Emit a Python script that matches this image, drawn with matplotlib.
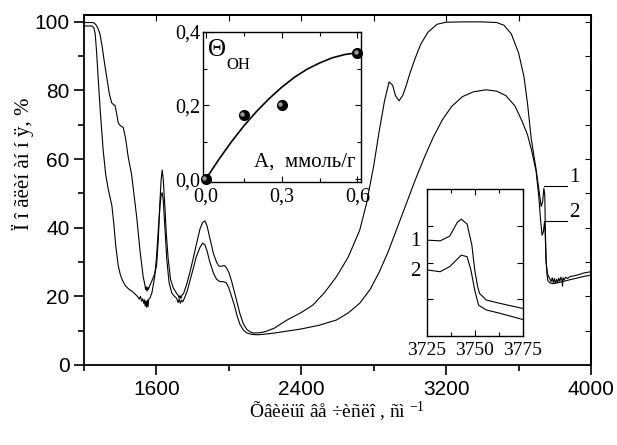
import matplotlib
matplotlib.use('Agg')
import matplotlib.pyplot as plt
from matplotlib.ticker import MultipleLocator, FixedLocator, NullFormatter

plt.rcParams['font.family'] = ['Liberation Sans', 'DejaVu Sans']
plt.rcParams['mathtext.fontset'] = 'custom'
plt.rcParams['mathtext.rm'] = 'Liberation Serif'
plt.rcParams['mathtext.it'] = 'Liberation Serif:italic'

# ---------------- main spectra ----------------
wn1 = [1200, 1250, 1260, 1268, 1278, 1288, 1300, 1312, 1325, 1340, 1353, 1365, 1371, 1380, 1389,
       1400, 1417, 1430, 1444, 1463, 1478, 1491, 1509, 1527, 1536, 1540, 1544, 1548, 1552, 1556,
       1562, 1575, 1590, 1601, 1610, 1619, 1626, 1632, 1638, 1647, 1655, 1665, 1678, 1693, 1710,
       1720, 1726, 1730, 1735, 1740, 1750, 1767, 1785, 1803, 1820, 1840, 1855, 1868, 1880, 1895,
       1915, 1932, 1945, 1960, 1975, 1987, 2000, 2015, 2030, 2042, 2061, 2080, 2100, 2120, 2140,
       2170, 2200, 2250, 2318, 2400, 2465, 2530, 2594, 2660, 2723, 2760, 2800, 2830, 2860, 2885,
       2905, 2920, 2940, 2960, 2980, 3000, 3030, 3060, 3100, 3150, 3200, 3300, 3400, 3480, 3520,
       3560, 3600, 3630, 3650, 3670, 3697, 3715, 3725, 3733, 3740, 3745, 3748, 3752, 3760, 3771,
       3780, 3786, 3792, 3798, 3804, 3810, 3816, 3822, 3828, 3834, 3840, 3843, 3846, 3852, 3860,
       3870, 3885, 3900, 3930, 3960, 4000]
t1 = [99.8, 99.8, 99.5, 99.0, 98.0, 96.5, 93.0, 88.5, 84.0, 79.0, 76.4, 75.8, 75.7, 73.5, 70.6,
      69.8, 69.2, 66.0, 60.7, 55.5, 49.0, 43.2, 33.5, 25.7, 23.5, 22.0, 22.8, 21.5, 22.6, 22.0,
      23.0, 24.5, 26.5, 29.0, 36.0, 47.0, 54.0, 56.8, 54.0, 46.0, 38.0, 31.0, 25.0, 22.5, 21.0,
      20.3, 19.5, 20.2, 19.4, 20.3, 20.8, 23.5, 27.0, 31.0, 35.0, 39.5, 41.5, 42.0, 40.5, 37.0,
      32.5, 30.0, 28.8, 28.8, 29.0, 28.3, 27.0, 24.5, 21.5, 19.0, 15.0, 12.0, 10.3, 9.6, 9.3,
      9.4, 9.7, 10.7, 13.0, 15.3, 17.5, 21.2, 25.7, 31.5, 39.3, 47.0, 58.0, 68.0, 77.0, 82.5,
      81.5, 78.5, 77.0, 78.5, 81.5, 85.0, 89.5, 93.5, 97.0, 99.3, 99.9, 100.0, 100.0, 99.8, 99.0,
      96.5, 91.0, 84.0, 76.0, 66.0, 57.0, 50.0, 46.2, 47.5, 51.5, 49.5, 40.0, 30.0, 26.5, 25.3,
      24.3, 25.4, 24.0, 25.2, 23.8, 25.0, 24.0, 25.3, 24.4, 25.6, 24.6, 23.0, 25.4, 24.8, 25.6,
      25.2, 25.8, 25.9, 26.3, 26.8, 27.2]

wn2 = [1200, 1245, 1255, 1262, 1270, 1278, 1290, 1306, 1320, 1335, 1354, 1365, 1375, 1389, 1400,
       1411, 1430, 1450, 1463, 1480, 1495, 1505, 1512, 1518, 1524, 1530, 1534, 1538, 1542, 1546,
       1550, 1554, 1558, 1565, 1575, 1590, 1600, 1610, 1620, 1626, 1632, 1638, 1647, 1657, 1670,
       1685, 1700, 1712, 1720, 1726, 1732, 1739, 1745, 1755, 1770, 1785, 1803, 1820, 1840, 1855,
       1868, 1880, 1895, 1915, 1932, 1950, 1969, 1985, 2000, 2015, 2030, 2045, 2060, 2080, 2100,
       2130, 2160, 2200, 2250, 2300, 2400, 2500, 2594, 2660, 2723, 2780, 2830, 2880, 2930, 2980,
       3030, 3080, 3130, 3180, 3230, 3290, 3350, 3420, 3480, 3530, 3580, 3620, 3650, 3670, 3697,
       3712, 3722, 3730, 3737, 3743, 3747, 3752, 3757, 3762, 3775, 3789, 3820, 3850, 3880, 3920,
       3960, 4000]
t2 = [98.8, 98.8, 98.2, 96.5, 91.0, 84.0, 74.0, 62.6, 55.5, 51.0, 46.5, 41.0, 35.0, 29.0, 26.5,
      24.8, 23.0, 22.0, 21.6, 20.8, 20.0, 19.2, 20.0, 18.6, 19.3, 18.0, 19.0, 17.2, 18.6, 16.8,
      18.9, 17.0, 19.2, 19.6, 21.0, 25.5, 31.0, 39.0, 46.5, 49.5, 50.2, 48.0, 40.0, 31.0, 24.0,
      21.0, 20.0, 19.4, 18.2, 19.2, 18.0, 18.9, 18.4, 19.5, 21.5, 24.5, 28.0, 31.5, 34.2, 35.5,
      35.0, 33.2, 30.0, 26.8, 25.0, 24.3, 24.3, 24.0, 22.5, 20.0, 17.5, 14.5, 12.0, 10.2, 9.3,
      8.9, 8.8, 9.0, 9.3, 9.7, 10.5, 11.6, 13.1, 15.2, 18.0, 22.0, 27.0, 33.0, 40.0, 47.0,
      54.0, 60.5, 66.5, 71.5, 75.3, 78.2, 79.6, 80.2, 79.8, 78.5, 75.5, 71.0, 67.0, 63.0, 56.5,
      49.0, 42.0, 37.8, 38.8, 41.5, 38.5, 31.0, 26.5, 24.5, 23.9, 23.7, 24.0, 24.4, 24.8, 25.3,
      25.8, 26.2]

x_major = [1600, 2400, 3200, 4000]
y_major = [0, 20, 40, 60, 80, 100]

# ---------------- inset: Theta_OH vs A ----------------
a_pts = [0.0, 0.15, 0.30, 0.60]
theta_pts = [0.0, 0.173, 0.20, 0.342]
a_fit = [0.0, 0.05, 0.10, 0.15, 0.20, 0.25, 0.30, 0.35, 0.40, 0.45, 0.50, 0.55, 0.60]
theta_fit = [0.0, 0.052, 0.100, 0.144, 0.183, 0.218, 0.249, 0.276, 0.298, 0.315, 0.329, 0.338, 0.343]
ins1_xticks = [0.0, 0.3, 0.6]
ins1_xlabels = ['0,0', '0,3', '0,6']
ins1_yticks = [0.0, 0.2, 0.4]
ins1_ylabels = ['0,0', '0,2', '0,4']

# ---------------- inset: 3725-3775 zoom ----------------
z_wn1 = [3725, 3732, 3737, 3741, 3743, 3746, 3748.5, 3750, 3751.5, 3752.5, 3756, 3763, 3775]
z_t1 = [2.61, 2.59, 2.72, 3.10, 3.18, 3.05, 2.48, 1.80, 1.35, 1.16, 0.98, 0.89, 0.75]
z_wn2 = [3725, 3732, 3737, 3743, 3746, 3748, 3750, 3752, 3756, 3763, 3775]
z_t2 = [1.80, 1.75, 1.89, 2.20, 2.16, 1.80, 1.25, 0.84, 0.71, 0.62, 0.45]
ins2_xticks = [3725, 3750, 3775]

serif = 'Liberation Serif'

fig = plt.figure(figsize=(6.17, 4.45), dpi=100)
ax = fig.add_axes([0.1361, 0.1798, 0.8217, 0.7865])
ax.plot(wn1, t1, color='black', lw=0.8)
ax.plot(wn2, t2, color='black', lw=0.8)
ax.set_xlim(1200, 4000)
ax.set_ylim(0, 102)
ax.xaxis.set_major_locator(FixedLocator(x_major))
ax.xaxis.set_minor_locator(MultipleLocator(400))
ax.yaxis.set_major_locator(FixedLocator(y_major))
ax.yaxis.set_minor_locator(MultipleLocator(10))
ax.tick_params(which='major', direction='out', length=7, width=1.2, labelsize=15)
ax.tick_params(which='minor', direction='out', length=4, width=1.2)
for s in ax.spines.values():
    s.set_linewidth(1.3)

sec_r = ax.secondary_yaxis('right')
sec_r.yaxis.set_major_locator(MultipleLocator(10))
sec_r.yaxis.set_major_formatter(NullFormatter())
sec_r.tick_params(direction='in', length=4, width=0.8)
sec_r.spines['right'].set_linewidth(1.3)
sec_t = ax.secondary_xaxis('top')
sec_t.xaxis.set_major_locator(MultipleLocator(400))
sec_t.xaxis.set_major_formatter(NullFormatter())
sec_t.tick_params(direction='in', length=4, width=0.8)
sec_t.spines['top'].set_linewidth(1.3)

ax.set_xlabel('Õâèëüî âå ÷èñëî , ñì $^{-1}$', fontfamily=serif, fontsize=14, labelpad=1)
fig.text(23 / 617, 1 - 164 / 445, 'Ï î ãëèí àí í ÿ, %', fontfamily=serif, fontsize=15,
         rotation=90, ha='center', va='center')

# leader lines for curve labels
ax.plot([3743, 3870], [52.1, 52.1], color='black', lw=0.8)
ax.plot([3743, 3870], [42.0, 42.0], color='black', lw=0.8)
ax.text(3880, 54.5, '1', fontfamily=serif, fontsize=15, ha='left', va='center')
ax.text(3880, 44.3, '2', fontfamily=serif, fontsize=15, ha='left', va='center')

# ---------- inset 1 ----------
ax1 = fig.add_axes([0.3295, 0.5917, 0.2551, 0.3371])
ax1.plot(a_fit, theta_fit, color='black', lw=1.2)
ax1.plot(a_pts, theta_pts, 'o', color='black', ms=7, clip_on=False, zorder=5)
ax1.plot([p - 0.006 for p in a_pts], [q + 0.004 for q in theta_pts], 'o', color='#9a9a9a',
         ms=2.2, clip_on=False, zorder=6)
ax1.set_xlim(-0.01, 0.613)
ax1.set_ylim(-0.007, 0.4)
ax1.set_xticks(ins1_xticks)
ax1.set_xticklabels(ins1_xlabels)
ax1.set_yticks(ins1_yticks)
ax1.set_yticklabels(ins1_ylabels)
ax1.xaxis.set_minor_locator(FixedLocator([0.15, 0.45]))
ax1.yaxis.set_minor_locator(FixedLocator([0.1, 0.3]))
ax1.tick_params(which='both', direction='in', top=True, right=True, labelsize=14.5, width=0.8)
ax1.tick_params(axis='x', pad=4)
ax1.tick_params(axis='y', pad=2)
ax1.tick_params(which='major', length=4)
ax1.tick_params(which='minor', length=3)
for lab in ax1.get_xticklabels() + ax1.get_yticklabels():
    lab.set_fontfamily(serif)
for s in ax1.spines.values():
    s.set_linewidth(1.0)
ax1.text(0.03, 0.875, 'Θ', transform=ax1.transAxes, fontfamily=serif, fontsize=18,
         ha='left', va='center')
ax1.text(0.145, 0.78, 'OH', transform=ax1.transAxes, fontfamily=serif, fontsize=12,
         ha='left', va='center')
ax1.text(0.97, 0.128, 'A,  ммоль/г', transform=ax1.transAxes, fontfamily=serif, fontsize=15,
         ha='right', va='center')

# ---------- inset 2 ----------
ax2 = fig.add_axes([0.6916, 0.2449, 0.1556, 0.3303])
ax2.plot(z_wn1, z_t1, color='black', lw=0.8)
ax2.plot(z_wn2, z_t2, color='black', lw=0.8)
ax2.set_xlim(3725, 3775)
ax2.set_ylim(0, 4)
ax2.set_xticks(ins2_xticks)
ax2.xaxis.set_minor_locator(FixedLocator([3737.5, 3762.5]))
ax2.set_yticks([1, 2, 3])
ax2.yaxis.set_major_formatter(NullFormatter())
ax2.tick_params(which='both', direction='in', top=True, right=True, labelsize=14, pad=4, width=0.8)
ax2.tick_params(which='major', length=4)
ax2.tick_params(which='minor', length=3)
for lab in ax2.get_xticklabels():
    lab.set_fontfamily(serif)
for s in ax2.spines.values():
    s.set_linewidth(1.0)
fig.text(0.6726, 0.4584, '1', fontfamily=serif, fontsize=15, ha='center', va='center')
fig.text(0.6726, 0.391, '2', fontfamily=serif, fontsize=15, ha='center', va='center')

fig.savefig('out.png', dpi=100)
